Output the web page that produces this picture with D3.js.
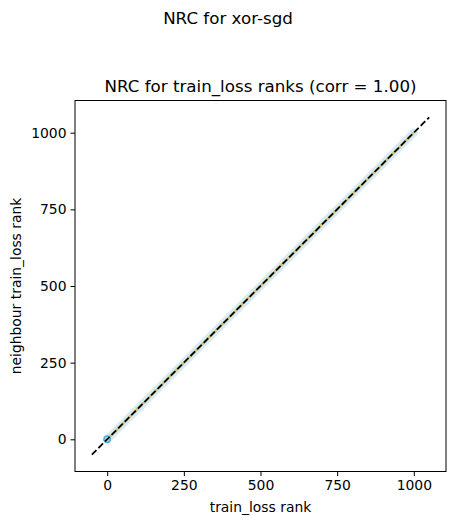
<!DOCTYPE html>
<html lang="en">
<head>
    <meta charset="UTF-8">
    <title>NRC for xor-sgd</title>
    <script src="https://d3js.org/d3.v7.min.js"></script>
    <style>
        body { margin: 0; background: #fff; }
        text { font-family: "DejaVu Sans", sans-serif; fill: #000; }
    </style>
</head>
<body>
    <div id="chart"></div>
    <script>
        // rank pairs (points lie on the diagonal)
        const ranks = [0, 100, 200, 300, 400, 500, 600, 700, 800, 900, 1000];
        const neighbourRanks = [0, 100, 200, 300, 400, 500, 600, 700, 800, 900, 1000];
        const refLine = [-50, 1050];
        const tickValues = [0, 250, 500, 750, 1000];

        const width = 455;
        const height = 525;
        const margin = { top: 100.5, right: 9, bottom: 53.5, left: 75 };
        const plotW = width - margin.left - margin.right;
        const plotH = height - margin.top - margin.bottom;

        const svg = d3.select("#chart").append("svg")
            .attr("width", width)
            .attr("height", height);

        const x = d3.scaleLinear().domain([-105, 1105]).range([0, plotW]);
        const y = d3.scaleLinear().domain([-105, 1105]).range([plotH, 0]);

        const g = svg.append("g")
            .attr("transform", `translate(${margin.left},${margin.top})`);

        const pts = ranks.map((r, i) => [r, neighbourRanks[i]]);
        const line = d3.line().x(d => x(d[0])).y(d => y(d[1]));

        // scatter band
        g.append("path")
            .attr("d", line(pts))
            .attr("fill", "none")
            .attr("stroke", "#d4ecf6")
            .attr("stroke-width", 8)
            .attr("stroke-linecap", "round");

        g.append("path")
            .attr("d", line(pts))
            .attr("fill", "none")
            .attr("stroke", "#d8bd73")
            .attr("stroke-width", 2.5);

        g.append("circle")
            .attr("cx", x(ranks[0]))
            .attr("cy", y(neighbourRanks[0]))
            .attr("r", 3.2)
            .attr("fill", "#a8d8ee")
            .attr("stroke", "#4fb0da")
            .attr("stroke-width", 1.5);

        // identity line
        g.append("line")
            .attr("x1", x(refLine[0])).attr("y1", y(refLine[0]))
            .attr("x2", x(refLine[1])).attr("y2", y(refLine[1]))
            .attr("stroke", "#000")
            .attr("stroke-width", 1.8)
            .attr("stroke-dasharray", "6.5,2.8");

        // axes
        const xAxis = g.append("g")
            .attr("transform", `translate(0,${plotH})`)
            .call(d3.axisBottom(x).tickValues(tickValues).tickFormat(d3.format("d")).tickSize(4.5).tickPadding(4));
        const yAxis = g.append("g")
            .call(d3.axisLeft(y).tickValues(tickValues).tickFormat(d3.format("d")).tickSize(4.5).tickPadding(4));
        [xAxis, yAxis].forEach(a => {
            a.select(".domain").remove();
            a.selectAll("text").style("font-family", "DejaVu Sans").style("font-size", "13.9px");
            a.selectAll("line").attr("stroke-width", 1);
        });

        g.append("rect")
            .attr("width", plotW)
            .attr("height", plotH)
            .attr("fill", "none")
            .attr("stroke", "#000")
            .attr("stroke-width", 1);

        // titles
        svg.append("text")
            .attr("x", 228).attr("y", 24)
            .attr("text-anchor", "middle")
            .style("font-size", "16.7px")
            .text("NRC for xor-sgd");

        svg.append("text")
            .attr("x", margin.left + plotW / 2).attr("y", 92)
            .attr("text-anchor", "middle")
            .style("font-size", "16.7px")
            .text("NRC for train_loss ranks (corr = 1.00)");

        svg.append("text")
            .attr("x", margin.left + plotW / 2).attr("y", 512)
            .attr("text-anchor", "middle")
            .style("font-size", "13.9px")
            .text("train_loss rank");

        svg.append("text")
            .attr("transform", `translate(21,${margin.top + plotH / 2}) rotate(-90)`)
            .attr("text-anchor", "middle")
            .style("font-size", "13.9px")
            .text("neighbour train_loss rank");
    </script>
</body>
</html>
